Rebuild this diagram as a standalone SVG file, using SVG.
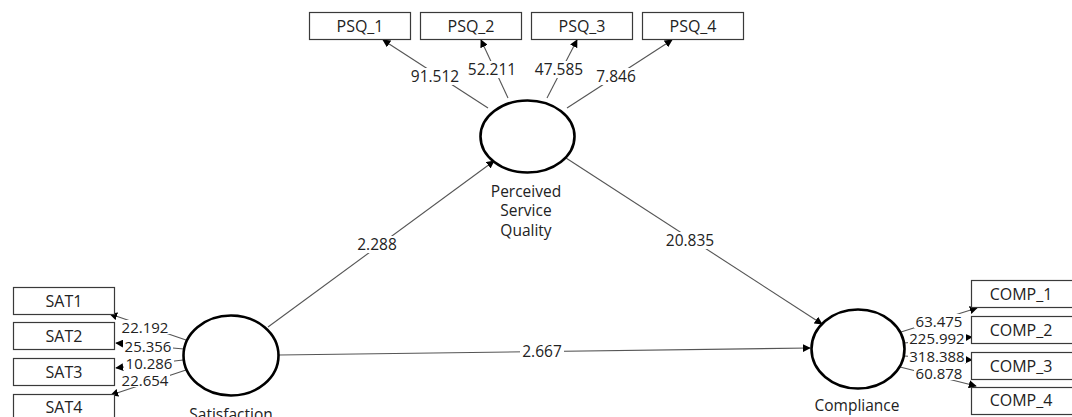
<svg xmlns="http://www.w3.org/2000/svg" width="1072" height="417" viewBox="0 0 1072 417">
<defs>
<style>
.box{fill:#fff;stroke:#3a3a3a;stroke-width:1.2}
.lv{fill:#fff;stroke:#000;stroke-width:2.6}
.t{font-family:"Open Sans","Noto Sans",sans-serif;font-size:15.5px;fill:#222;text-anchor:middle}
.b{font-size:16px}
.e{stroke:#555;stroke-width:1.1;fill:none;marker-end:url(#ah)}
.n{font-family:"Open Sans","Noto Sans",sans-serif;font-size:15.5px;fill:#222;text-anchor:middle}
.s{font-size:15px}
.bg{fill:#fff;stroke:none}
</style>
<marker id="ah" viewBox="0 0 10 10" refX="9" refY="5" markerWidth="8" markerHeight="8" markerUnits="userSpaceOnUse" orient="auto">
<path d="M0,0 L10,5 L0,10 z" fill="#000"/>
</marker>
</defs>
<rect width="1072" height="417" fill="#fff"/>
<g id="connectors">
<line class="e" x1="488" y1="108" x2="383" y2="40"/>
<line class="e" x1="508" y1="98" x2="481" y2="40"/>
<line class="e" x1="547" y1="98" x2="577" y2="40"/>
<line class="e" x1="567" y1="108" x2="672" y2="40"/>
<line class="e" x1="268" y1="327" x2="494" y2="161"/>
<line class="e" x1="566" y1="158" x2="822" y2="324"/>
<line class="e" x1="279" y1="355" x2="810" y2="348"/>
<line class="e" x1="186" y1="340" x2="110" y2="314"/>
<line class="e" x1="184" y1="349" x2="116" y2="343"/>
<line class="e" x1="183" y1="360" x2="116" y2="368"/>
<line class="e" x1="186" y1="370" x2="111" y2="395"/>
<line class="e" x1="901" y1="332" x2="977" y2="308"/>
<line class="e" x1="904" y1="343" x2="972" y2="337"/>
<line class="e" x1="904" y1="356" x2="972" y2="360"/>
<line class="e" x1="900" y1="367" x2="976" y2="386"/>
<rect class="bg" x="409" y="68" width="52" height="17"/>
<rect class="bg" x="466" y="61" width="52" height="17"/>
<rect class="bg" x="533" y="61" width="52" height="17"/>
<rect class="bg" x="594" y="68" width="44" height="17"/>
<rect class="bg" x="355" y="236" width="44" height="17"/>
<rect class="bg" x="664" y="232" width="52" height="17"/>
<rect class="bg" x="520" y="343" width="44" height="17"/>
<rect class="bg" x="120" y="320" width="50" height="14"/>
<rect class="bg" x="123" y="339" width="50" height="14"/>
<rect class="bg" x="124" y="356" width="50" height="14"/>
<rect class="bg" x="120" y="373" width="50" height="14"/>
<rect class="bg" x="914" y="314" width="50" height="14"/>
<rect class="bg" x="908" y="331" width="58" height="14"/>
<rect class="bg" x="908" y="349" width="58" height="14"/>
<rect class="bg" x="914" y="366" width="50" height="14"/>
<text class="n" x="435" y="82">91.512</text>
<text class="n" x="492" y="75">52.211</text>
<text class="n" x="559" y="75">47.585</text>
<text class="n" x="616" y="82">7.846</text>
<text class="n" x="377" y="250">2.288</text>
<text class="n" x="690" y="246">20.835</text>
<text class="n" x="542" y="357">2.667</text>
<text class="n s" x="145" y="333">22.192</text>
<text class="n s" x="148" y="352">25.356</text>
<text class="n s" x="149" y="369">10.286</text>
<text class="n s" x="145" y="386">22.654</text>
<text class="n s" x="939" y="327">63.475</text>
<text class="n s" x="937" y="344">225.992</text>
<text class="n s" x="937" y="362">318.388</text>
<text class="n s" x="939" y="379">60.878</text>
</g>
<g id="PSQ_1"><rect class="box" x="309.5" y="12.5" width="101" height="27"/><text class="t b" x="360" y="32">PSQ_1</text></g>
<g id="PSQ_2"><rect class="box" x="420.5" y="12.5" width="101" height="27"/><text class="t b" x="471" y="32">PSQ_2</text></g>
<g id="PSQ_3"><rect class="box" x="531.5" y="12.5" width="101" height="27"/><text class="t b" x="582" y="32">PSQ_3</text></g>
<g id="PSQ_4"><rect class="box" x="642.5" y="12.5" width="101" height="27"/><text class="t b" x="693" y="32">PSQ_4</text></g>
<g id="PSQ"><ellipse class="lv" cx="527.5" cy="136.5" rx="47" ry="36"/>
<text class="t" x="526" y="197">Perceived</text><text class="t" x="526" y="216">Service</text><text class="t" x="526" y="236">Quality</text></g>
<g id="SAT"><ellipse class="lv" cx="231" cy="355.5" rx="47.5" ry="40"/><text class="t" x="231" y="420">Satisfaction</text></g>
<g id="COMP"><ellipse class="lv" cx="858" cy="349" rx="46.5" ry="39.5"/><text class="t" x="857" y="411">Compliance</text></g>
<g id="SAT1"><rect class="box" x="13.5" y="287.5" width="101" height="27"/><text class="t b" x="64" y="307">SAT1</text></g>
<g id="SAT2"><rect class="box" x="13.5" y="322.5" width="101" height="27"/><text class="t b" x="64" y="342">SAT2</text></g>
<g id="SAT3"><rect class="box" x="13.5" y="358.5" width="101" height="27"/><text class="t b" x="64" y="378">SAT3</text></g>
<g id="SAT4"><rect class="box" x="13.5" y="394.5" width="101" height="27"/><text class="t b" x="64" y="413">SAT4</text></g>
<g id="COMP_1"><rect class="box" x="971.5" y="280.5" width="102" height="27"/><text class="t b" x="1021" y="300">COMP_1</text></g>
<g id="COMP_2"><rect class="box" x="971.5" y="316.5" width="102" height="27"/><text class="t b" x="1021" y="336">COMP_2</text></g>
<g id="COMP_3"><rect class="box" x="971.5" y="352.5" width="102" height="27"/><text class="t b" x="1021" y="372">COMP_3</text></g>
<g id="COMP_4"><rect class="box" x="971.5" y="387.5" width="102" height="27"/><text class="t b" x="1021" y="406">COMP_4</text></g>
</svg>
